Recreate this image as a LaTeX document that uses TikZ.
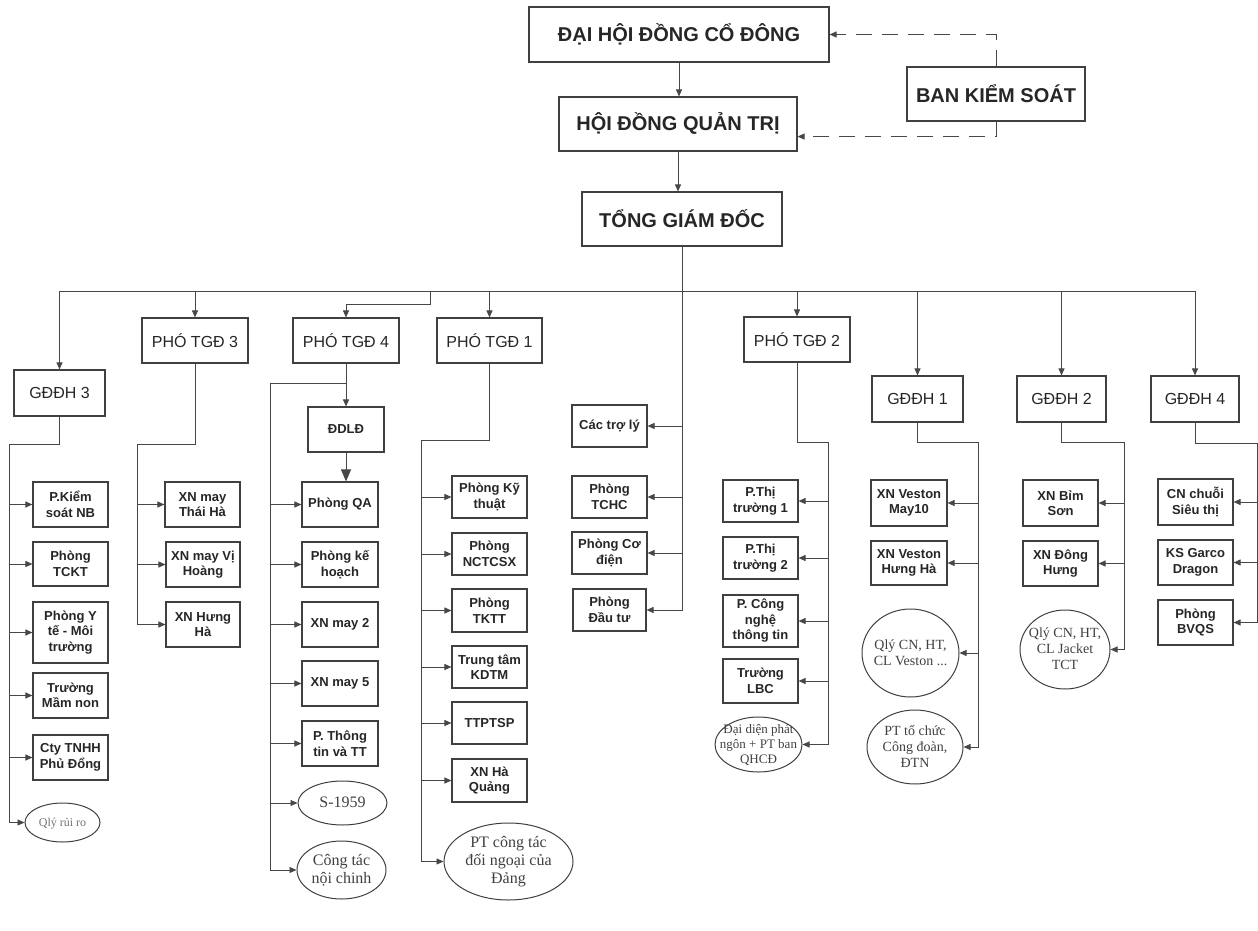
\documentclass[tikz,border=0pt]{standalone}
\usepackage{fontspec}
\setmainfont{Liberation Sans}
\newfontfamily\serifE{Liberation Serif}
\usetikzlibrary{arrows.meta,shapes.geometric,calc}
\newcommand\ztext[1]{\makebox[0pt]{\smash{\raisebox{-0.32em}{\begin{tabular}{@{}c@{}}#1\end{tabular}}}}}
\begin{document}
\begin{tikzpicture}[x=1pt,y=-1pt,
  line/.style={draw=black!72, line width=0.95pt},
  arr/.style={line, -{Triangle[length=7pt,width=6pt]}},
  bigarr/.style={line, -{Triangle[length=12pt,width=10pt]}},
  dsh/.style={arr, dash pattern=on 16pt off 10pt},
  tbox/.style={draw=black!75, line width=1.1pt, inner sep=0pt, text=black!85,
     font=\fontsize{20}{24}\selectfont\bfseries},
  lbox/.style={draw=black!75, line width=1.1pt, inner sep=0pt, text=black!85,
     font=\fontsize{16}{19}\selectfont},
  sbox/.style={draw=black!75, line width=1.1pt, inner sep=1.5pt, align=center, text=black!85,
     font=\fontsize{13}{15.5}\selectfont\bfseries},
  ell/.style={ellipse, draw=black!75, line width=1pt, inner sep=0pt, text=black!75,
     font=\serifE\fontsize{14}{16}\selectfont},
  bigell/.style={ell, font=\serifE\fontsize{16}{18}\selectfont}
]
\fill[white] (0,0) rectangle (1258,931);
\useasboundingbox (0,0) rectangle (1258,931);

% top level
\node[tbox, minimum width=300pt, minimum height=55pt] (dh) at (679,34.5) {ĐẠI HỘI ĐỒNG CỔ ĐÔNG};
\node[tbox, minimum width=238pt, minimum height=54pt] (hd) at (678,124) {HỘI ĐỒNG QUẢN TRỊ};
\node[tbox, minimum width=200pt, minimum height=54pt] (tgd) at (682,219) {TỔNG GIÁM ĐỐC};
\node[tbox, minimum width=178pt, minimum height=54pt] (bks) at (996,94) {BAN KIỂM SOÁT};

\draw[arr] (dh.south) -- (dh.south |- hd.north);
\draw[arr] (hd.south) -- (hd.south |- tgd.north);
\draw[dsh] (bks.north) |- (dh.east);
\draw[dsh] (bks.south) |- ([yshift=15pt]hd.south east);

% level 2
\node[lbox, minimum width=91pt, minimum height=46pt] (g3) at (59.5,393) {GĐĐH 3};
\node[lbox, minimum width=106pt, minimum height=45pt] (p3) at (195,340.5) {PHÓ TGĐ 3};
\node[lbox, minimum width=106pt, minimum height=45pt] (p4) at (346,340.5) {PHÓ TGĐ 4};
\node[lbox, minimum width=105pt, minimum height=45pt] (p1) at (489.5,340.5) {PHÓ TGĐ 1};
\node[lbox, minimum width=106pt, minimum height=45pt] (p2) at (797,339.5) {PHÓ TGĐ 2};
\node[lbox, minimum width=91pt, minimum height=46pt] (g1) at (917.5,399) {GĐĐH 1};
\node[lbox, minimum width=89pt, minimum height=46pt] (g2) at (1061.5,399) {GĐĐH 2};
\node[lbox, minimum width=88pt, minimum height=46pt] (g4) at (1195,399) {GĐĐH 4};

\coordinate (bus) at (682,291);
\coordinate (sA) at (9,444);
\coordinate (sB) at (137,444);
\coordinate (sC) at (270,383);
\coordinate (sD) at (421,440);
\coordinate (sF) at (828,442);
\coordinate (sG) at (978,442);
\coordinate (sH) at (1124,442);
\coordinate (sI) at (1257,443);

\draw[line] (g3.north |- bus) -- (g4.north |- bus);
\foreach \n in {g3,p3,p1,p2,g1,g2,g4} \draw[arr] (\n.north |- bus) -- (\n.north);
\coordinate (k4) at (430,304);
\draw[arr] (k4 |- bus) -- (k4) -| (p4.north);

% GDDH 3 column
\node[sbox, minimum width=75pt, minimum height=45pt] (a1) at (70.5,504.5) {P.Kiểm\\soát NB};
\node[sbox, minimum width=75pt, minimum height=44pt] (a2) at (70.5,564) {Phòng\\TCKT};
\node[sbox, minimum width=75pt, minimum height=61pt] (a3) at (70.5,632.5) {Phòng Y\\tế - Môi\\trường};
\node[sbox, minimum width=75pt, minimum height=45pt] (a4) at (70.5,695.5) {Trường\\Mầm non};
\node[sbox, minimum width=75pt, minimum height=45pt] (a5) at (70.5,757.5) {Cty TNHH\\Phủ Đổng};
\node[ell, minimum width=75pt, minimum height=39pt, text=black!55, font=\serifE\fontsize{12}{14}\selectfont] (a6) at (62.5,822.5) {\ztext{Qlý rủi ro}};
\draw[arr] (g3.south) |- (sA) |- (a6.west);
\foreach \n in {a1,a2,a3,a4,a5} \draw[arr] (sA |- \n.west) -- (\n.west);

% PHO TGD 3 column
\node[sbox, minimum width=75pt, minimum height=45pt] (b1) at (202.5,504.5) {XN may\\Thái Hà};
\node[sbox, minimum width=74pt, minimum height=45pt] (b2) at (203,564.5) {XN may Vị\\Hoàng};
\node[sbox, minimum width=74pt, minimum height=45pt] (b3) at (203,624.5) {XN Hưng\\Hà};
\draw[arr] (p3.south) |- (sB) |- (b3.west);
\foreach \n in {b1,b2} \draw[arr] (sB |- \n.west) -- (\n.west);

% PHO TGD 4 column
\node[sbox, minimum width=76pt, minimum height=45pt] (d0) at (346,429.5) {ĐDLĐ};
\node[sbox, minimum width=76pt, minimum height=45pt] (e1) at (340,504.5) {Phòng QA};
\node[sbox, minimum width=76pt, minimum height=45pt] (e2) at (340,564.5) {Phòng kế\\hoạch};
\node[sbox, minimum width=76pt, minimum height=45pt] (e3) at (340,624.5) {XN may 2};
\node[sbox, minimum width=76pt, minimum height=45pt] (e4) at (340,683.5) {XN may 5};
\node[sbox, minimum width=76pt, minimum height=45pt] (e5) at (340,743.5) {P. Thông\\tin và TT};
\node[bigell, minimum width=89pt, minimum height=44pt] (e6) at (342.5,803) {\ztext{S-1959}};
\node[bigell, minimum width=89pt, minimum height=58pt] (e7) at (341.5,870) {\ztext{Công tác\\nội chinh}};
\draw[arr] (p4.south) -- (d0.north);
\draw[bigarr] (d0.south) -- (d0.south |- e1.north);
\draw[arr] (p4.south |- sC) -- (sC) |- (e7.west);
\foreach \n in {e1,e2,e3,e4,e5,e6} \draw[arr] (sC |- \n.west) -- (\n.west);

% PHO TGD 1 column
\node[sbox, minimum width=75pt, minimum height=42pt] (f1) at (489.5,497) {Phòng Kỹ\\thuật};
\node[sbox, minimum width=75pt, minimum height=42pt] (f2) at (489.5,554) {Phòng\\NCTCSX};
\node[sbox, minimum width=75pt, minimum height=43pt] (f3) at (489.5,610.5) {Phòng\\TKTT};
\node[sbox, minimum width=75pt, minimum height=42pt] (f4) at (489.5,667) {Trung tâm\\KDTM};
\node[sbox, minimum width=75pt, minimum height=42pt] (f5) at (489.5,723) {TTPTSP};
\node[sbox, minimum width=75pt, minimum height=43pt] (f6) at (489.5,780.5) {XN Hà\\Quảng};
\node[bigell, minimum width=129pt, minimum height=77pt] (f7) at (508.5,861.5) {\ztext{PT công tác\\đối ngoại của\\Đảng}};
\draw[arr] (p1.south) |- (sD) |- (f7.west);
\foreach \n in {f1,f2,f3,f4,f5,f6} \draw[arr] (sD |- \n.west) -- (\n.west);

% TGD direct column
\node[sbox, minimum width=75pt, minimum height=42pt] (h1) at (609.5,426) {Các trợ lý};
\node[sbox, minimum width=75pt, minimum height=42pt] (h2) at (609.5,497) {Phòng\\TCHC};
\node[sbox, minimum width=75pt, minimum height=42pt] (h3) at (609.5,553) {Phòng Cơ\\điện};
\node[sbox, minimum width=73pt, minimum height=42pt] (h4) at (609.5,610) {Phòng\\Đầu tư};
\draw[arr] (tgd.south) |- (h4.east);
\foreach \n in {h1,h2,h3} \draw[arr] (bus |- \n.east) -- (\n.east);

% PHO TGD 2 column
\node[sbox, minimum width=75pt, minimum height=42pt] (i1) at (760.5,501) {P.Thị\\trường 1};
\node[sbox, minimum width=75pt, minimum height=42pt] (i2) at (760.5,558) {P.Thị\\trường 2};
\node[sbox, minimum width=75pt, minimum height=52pt] (i3) at (760.5,621) {P. Công\\nghệ\\thông tin};
\node[sbox, minimum width=75pt, minimum height=44pt] (i4) at (760.5,681) {Trường\\LBC};
\node[ell, minimum width=87pt, minimum height=55pt, font=\serifE\fontsize{13}{15}\selectfont] (i5) at (758.5,744.5) {\ztext{Đại diện phát\\ngôn + PT ban\\QHCĐ}};
\draw[arr] (p2.south) |- (sF) |- (i5.east);
\foreach \n in {i1,i2,i3,i4} \draw[arr] (sF |- \n.east) -- (\n.east);

% GDDH 1 column
\node[sbox, minimum width=76pt, minimum height=46pt] (j1) at (909,503) {XN Veston\\May10};
\node[sbox, minimum width=76pt, minimum height=44pt] (j2) at (909,563) {XN Veston\\Hưng Hà};
\node[ell, minimum width=97pt, minimum height=88pt] (j3) at (910.5,653) {\ztext{Qlý CN, HT,\\CL Veston ...}};
\node[ell, minimum width=96pt, minimum height=74pt] (j4) at (915,747) {\ztext{PT tổ chức\\Công đoàn,\\ĐTN}};
\draw[arr] (g1.south) |- (sG) |- (j4.east);
\foreach \n in {j1,j2,j3} \draw[arr] (sG |- \n.east) -- (\n.east);

% GDDH 2 column
\node[sbox, minimum width=75pt, minimum height=46pt] (k1) at (1060.5,503) {XN Bỉm\\Sơn};
\node[sbox, minimum width=75pt, minimum height=45pt] (k2) at (1060.5,563.5) {XN Đông\\Hưng};
\node[ell, minimum width=90pt, minimum height=79pt] (k3) at (1065,649.5) {\ztext{Qlý CN, HT,\\CL Jacket\\TCT}};
\draw[arr] (g2.south) |- (sH) |- (k3.east);
\foreach \n in {k1,k2} \draw[arr] (sH |- \n.east) -- (\n.east);

% GDDH 4 column
\node[sbox, minimum width=75pt, minimum height=46pt] (l1) at (1195.5,502) {CN chuỗi\\Siêu thị};
\node[sbox, minimum width=75pt, minimum height=45pt] (l2) at (1195.5,562.5) {KS Garco\\Dragon};
\node[sbox, minimum width=75pt, minimum height=45pt] (l3) at (1195.5,622.5) {Phòng\\BVQS};
\draw[arr] (g4.south) |- (sI) |- (l3.east);
\foreach \n in {l1,l2} \draw[arr] (sI |- \n.east) -- (\n.east);
\end{tikzpicture}
\end{document}
